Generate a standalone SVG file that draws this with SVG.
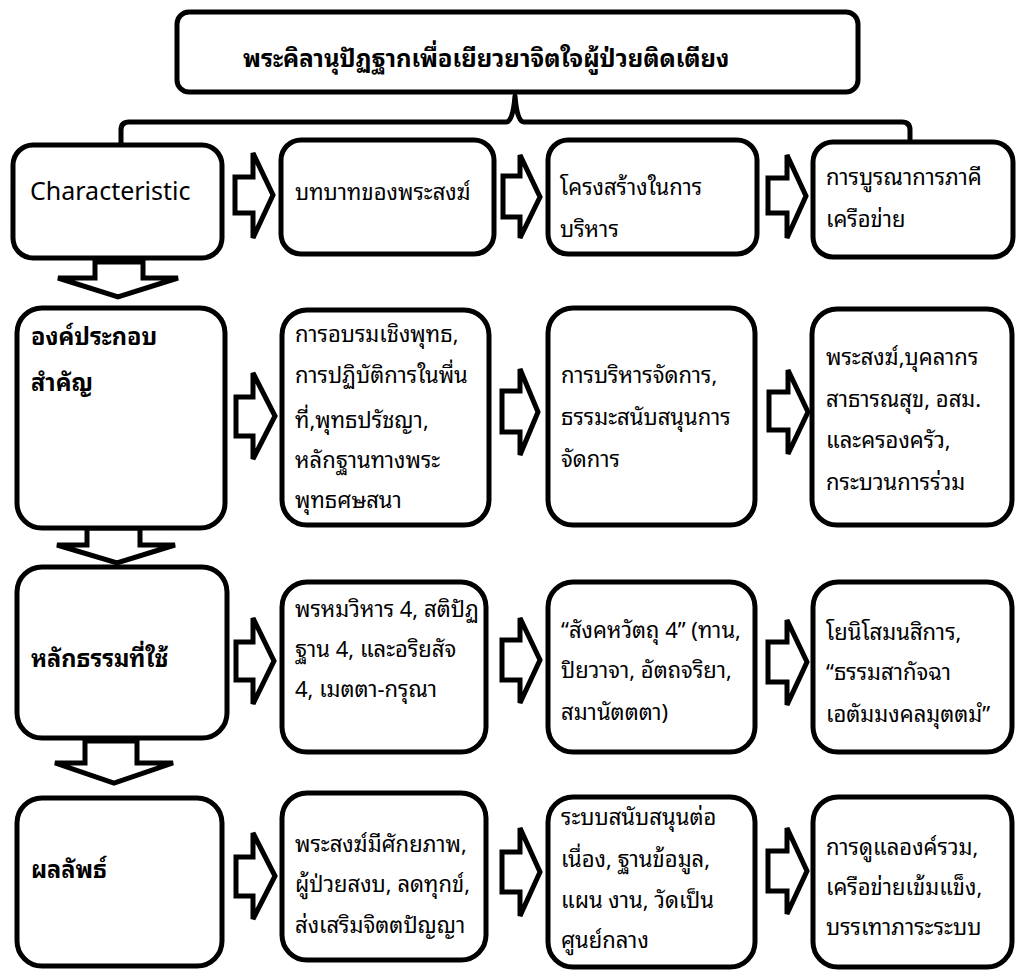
<svg xmlns="http://www.w3.org/2000/svg" width="1016" height="970" viewBox="0 0 1016 970">
<style>
.box{fill:#fff;stroke:#000;stroke-width:5}
.arr{fill:#fff;stroke:#000;stroke-width:5;stroke-linejoin:miter}
.brace{fill:none;stroke:#000;stroke-width:5;stroke-linejoin:round}
text{font-family:"Noto Sans Thai Looped","Noto Sans Thai","Noto Sans","DejaVu Sans",sans-serif;fill:#000}
.t{font-size:22px}
.h{font-size:23.5px;font-weight:bold}
.title{font-size:24px;font-weight:bold}
.en{font-family:"Noto Sans","Open Sans",sans-serif;font-size:25px}
</style>
<rect width="1016" height="970" fill="#fff"/>
<g id="title">
<rect class="box" x="177" y="12" width="681" height="80" rx="12"/>
<text class="title" x="243" y="67">พระคิลานุปัฏฐากเพื่อเยียวยาจิตใจผู้ป่วยติดเตียง</text>
</g>
<g id="connectors">
<path class="brace" d="M121,148 L121,130 Q121,122 129,122 L506,122 Q513,122 515,96 Q517,122 524,122 L902,122 Q910,122 910,130 L910,148"/>
<path class="arr" d="M235,177 L253,177 L253,153 L273,195 L253,238 L253,213 L235,213 Z"/>
<path class="arr" d="M503,176 L520,176 L520,155 L540,197 L520,238 L520,217 L503,217 Z"/>
<path class="arr" d="M768,178 L787,178 L787,155 L806,196 L787,238 L787,213 L768,213 Z"/>
<path class="arr" d="M236,397 L253,397 L253,373 L275,416 L253,459 L253,436 L236,436 Z"/>
<path class="arr" d="M502,391 L520,391 L520,369 L538,412 L520,455 L520,432 L502,432 Z"/>
<path class="arr" d="M769,392 L788,392 L788,370 L808,412 L788,454 L788,430 L769,430 Z"/>
<path class="arr" d="M236,642 L253,642 L253,618 L274,661 L253,704 L253,680 L236,680 Z"/>
<path class="arr" d="M502,640 L520,640 L520,618 L540,660 L520,703 L520,680 L502,680 Z"/>
<path class="arr" d="M768,642 L787,642 L787,620 L807,662 L787,705 L787,682 L768,682 Z"/>
<path class="arr" d="M236,857 L253,857 L253,833 L275,876 L253,919 L253,896 L236,896 Z"/>
<path class="arr" d="M502,852 L520,852 L520,828 L540,872 L520,916 L520,892 L502,892 Z"/>
<path class="arr" d="M768,851 L787,851 L787,828 L807,871 L787,914 L787,891 L768,891 Z"/>
<path class="arr" d="M95,262 L143,262 L143,278 L178,278 L118,297 L58,278 L95,278 Z"/>
<path class="arr" d="M87,528 L140,528 L140,545 L175,545 L117,563 L57,545 L87,545 Z"/>
<path class="arr" d="M85,741 L137,741 L137,763 L173,763 L114,783 L55,763 L85,763 Z"/>
</g>
<g id="r1c1">
<rect class="box" x="13" y="145" width="209" height="113" rx="20"/>
<text class="en" x="30" y="200">Characteristic</text>
</g>
<g id="r1c2">
<rect class="box" x="281" y="140" width="213" height="114" rx="20"/>
<text class="t" x="295" y="200">บทบาทของพระสงฆ์</text>
</g>
<g id="r1c3">
<rect class="box" x="548" y="140" width="209" height="114" rx="20"/>
<text class="t" x="560" y="195">โครงสร้างในการ</text>
<text class="t" x="560" y="237">บริหาร</text>
</g>
<g id="r1c4">
<rect class="box" x="813" y="142" width="200" height="115" rx="20"/>
<text class="t" x="826" y="185">การบูรณาการภาคี</text>
<text class="t" x="826" y="227">เครือข่าย</text>
</g>
<g id="r2c1">
<rect class="box" x="17" y="308" width="208" height="220" rx="25"/>
<text class="h" x="31" y="345">องค์ประกอบ</text>
<text class="h" x="31" y="391">สำคัญ</text>
</g>
<g id="r2c2">
<rect class="box" x="282" y="310" width="207" height="215" rx="25"/>
<text class="t" x="295" y="342">การอบรมเชิงพุทธ,</text>
<text class="t" x="295" y="383">การปฏิบัติการในพื่น</text>
<text class="t" x="295" y="428">ที่,พุทธปรัชญา,</text>
<text class="t" x="295" y="468">หลักฐานทางพระ</text>
<text class="t" x="295" y="508">พุทธศษสนา</text>
</g>
<g id="r2c3">
<rect class="box" x="548" y="308" width="207" height="217" rx="25"/>
<text class="t" x="561" y="383">การบริหารจัดการ,</text>
<text class="t" x="561" y="425">ธรรมะสนับสนุนการ</text>
<text class="t" x="561" y="467">จัดการ</text>
</g>
<g id="r2c4">
<rect class="box" x="812" y="309" width="200" height="216" rx="25"/>
<text class="t" x="826" y="365">พระสงฆ์,บุคลากร</text>
<text class="t" x="826" y="407">สาธารณสุข, อสม.</text>
<text class="t" x="826" y="448">และครองครัว,</text>
<text class="t" x="826" y="490">กระบวนการร่วม</text>
</g>
<g id="r3c1">
<rect class="box" x="17" y="567" width="210" height="171" rx="25"/>
<text class="h" x="31" y="667">หลักธรรมที่ใช้</text>
</g>
<g id="r3c2">
<rect class="box" x="282" y="582" width="204" height="170" rx="25"/>
<text class="t" x="295" y="617">พรหมวิหาร 4, สติปัฏ</text>
<text class="t" x="295" y="657">ฐาน 4, และอริยสัจ</text>
<text class="t" x="295" y="697">4, เมตตา-กรุณา</text>
</g>
<g id="r3c3">
<rect class="box" x="548" y="582" width="207" height="170" rx="25"/>
<text class="t" x="561" y="638">“สังคหวัตถุ 4” (ทาน,</text>
<text class="t" x="561" y="678">ปิยวาจา, อัตถจริยา,</text>
<text class="t" x="561" y="720">สมานัตตตา)</text>
</g>
<g id="r3c4">
<rect class="box" x="813" y="582" width="199" height="170" rx="25"/>
<text class="t" x="826" y="640">โยนิโสมนสิการ,</text>
<text class="t" x="826" y="680">“ธรรมสากัจฉา</text>
<text class="t" x="826" y="722">เอตัมมงคลมุตตมํ”</text>
</g>
<g id="r4c1">
<rect class="box" x="17" y="798" width="205" height="168" rx="25"/>
<text class="h" x="31" y="878">ผลลัพธ์</text>
</g>
<g id="r4c2">
<rect class="box" x="282" y="793" width="204" height="167" rx="25"/>
<text class="t" x="295" y="852">พระสงฆ์มีศักยภาพ,</text>
<text class="t" x="295" y="892">ผู้ป่วยสงบ, ลดทุกข์,</text>
<text class="t" x="295" y="933">ส่งเสริมจิตตปัญญา</text>
</g>
<g id="r4c3">
<rect class="box" x="548" y="797" width="207" height="170" rx="25"/>
<text class="t" x="561" y="825">ระบบสนับสนุนต่อ</text>
<text class="t" x="561" y="867">เนื่อง, ฐานข้อมูล,</text>
<text class="t" x="561" y="908">แผน งาน, วัดเป็น</text>
<text class="t" x="561" y="948">ศูนย์กลาง</text>
</g>
<g id="r4c4">
<rect class="box" x="813" y="797" width="199" height="170" rx="25"/>
<text class="t" x="826" y="855">การดูแลองค์รวม,</text>
<text class="t" x="826" y="895">เครือข่ายเข้มแข็ง,</text>
<text class="t" x="826" y="935">บรรเทาภาระระบบ</text>
</g>
</svg>
